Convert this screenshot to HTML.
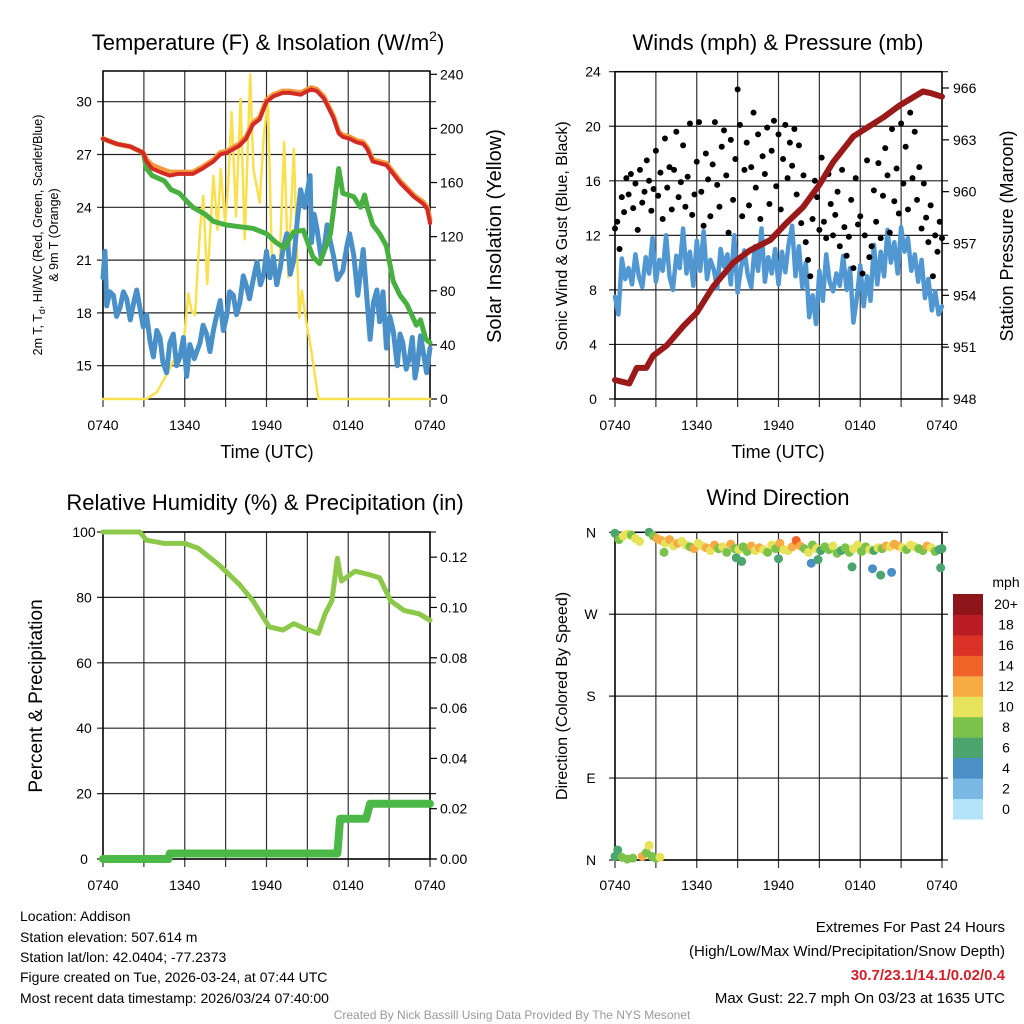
<!DOCTYPE html>
<html><head><meta charset="utf-8"><style>
body{margin:0;background:#fff;}
svg{display:block;font-family:"Liberation Sans",Arial,sans-serif;}
</style></head><body>
<svg id="s" width="1024" height="1024" viewBox="0 0 1024 1024">
<g id="g"></g>
<text x="268" y="50" font-size="22" text-anchor="middle">Temperature (F) &amp; Insolation (W/m<tspan dy="-9" font-size="14">2</tspan><tspan dy="9">)</tspan></text>
<text x="778" y="50" font-size="22" text-anchor="middle">Winds (mph) &amp; Pressure (mb)</text>
<text x="265" y="510" font-size="22" text-anchor="middle">Relative Humidity (%) &amp; Precipitation (in)</text>
<text x="778" y="505" font-size="22" text-anchor="middle">Wind Direction</text>
<text x="267" y="458" font-size="18" text-anchor="middle">Time (UTC)</text>
<text x="778" y="458" font-size="18" text-anchor="middle">Time (UTC)</text>
<text transform="translate(42,235) rotate(-90)" font-size="12.5" text-anchor="middle">2m T, T<tspan font-size="9" dy="3">d</tspan><tspan dy="-3">, HI/WC (Red, Green, Scarlet/Blue)</tspan></text>
<text transform="translate(58,235) rotate(-90)" font-size="12.5" text-anchor="middle">&amp; 9m T (Orange)</text>
<text transform="translate(501,236) rotate(-90)" font-size="20" text-anchor="middle">Solar Insolation (Yellow)</text>
<text transform="translate(567,236) rotate(-90)" font-size="16" text-anchor="middle">Sonic Wind &amp; Gust (Blue, Black)</text>
<text transform="translate(1013,236) rotate(-90)" font-size="18" text-anchor="middle">Station Pressure (Maroon)</text>
<text transform="translate(42,696) rotate(-90)" font-size="19" text-anchor="middle">Percent &amp; Precipitation</text>
<text transform="translate(567,696) rotate(-90)" font-size="16" text-anchor="middle">Direction (Colored By Speed)</text>
<g font-size="14">
<text x="20" y="921">Location: Addison</text>
<text x="20" y="942">Station elevation: 507.614 m</text>
<text x="20" y="962">Station lat/lon: 42.0404; -77.2373</text>
<text x="20" y="982">Figure created on Tue, 2026-03-24, at 07:44 UTC</text>
<text x="20" y="1003">Most recent data timestamp: 2026/03/24 07:40:00</text>
</g>
<g font-size="15" text-anchor="end">
<text x="1005" y="932">Extremes For Past 24 Hours</text>
<text x="1005" y="956">(High/Low/Max Wind/Precipitation/Snow Depth)</text>
<text x="1005" y="980" fill="#d0202a" font-weight="bold">30.7/23.1/14.1/0.02/0.4</text>
<text x="1005" y="1003">Max Gust: 22.7 mph On 03/23 at 1635 UTC</text>
</g>
<text x="512" y="1019" font-size="12" fill="#999" text-anchor="middle">Created By Nick Bassill Using Data Provided By The NYS Mesonet</text>
</svg>
<script>
// ---- data ----
const timeTickLabels=["0740","1340","1940","0140","0740"];
const tTimes=[0,1,2,2.95,3.2,3.6,4.2,4.9,5.5,6.6,7.3,8.1,8.6,9.1,10,10.5,11,11.5,12,12.5,13.2,13.7,14.5,15,15.3,15.7,16.2,16.9,17.3,17.6,18.1,18.6,19.1,19.4,19.8,20.8,21.8,22.8,23.5,23.8,24];
const tempVals=[27.9,27.6,27.45,27.1,26.6,26.2,26.0,25.8,25.9,25.9,26.2,26.6,27.0,27.1,27.5,27.9,28.7,29.0,30.0,30.3,30.5,30.5,30.4,30.6,30.7,30.6,30.2,29.1,28.2,28.0,27.9,27.7,27.6,27.3,26.6,26.4,25.4,24.6,24.2,23.9,23.1];
const temp9Vals=[27.9,27.6,27.45,27.1,26.7,26.4,26.2,26.0,26.0,26.0,26.3,26.7,27.1,27.2,27.6,28.0,28.8,29.1,30.1,30.4,30.6,30.6,30.5,30.7,30.8,30.7,30.3,29.2,28.3,28.1,28.0,27.8,27.7,27.4,26.7,26.5,25.5,24.7,24.3,24.0,23.3];
const tdTimes=[0,1,2,2.95,3.2,3.6,4.5,5,5.6,6.2,6.6,7.5,8.1,9,10,11,12,12.7,13.3,14,14.7,15.4,15.9,16.7,17.3,17.6,18.4,18.9,19.2,19.4,19.8,20.3,20.8,21.3,21.8,22.3,23,23.3,23.7,24];
const tdVals=[27.9,27.6,27.45,27.1,26.2,25.8,25.5,25.0,24.8,24.3,24.0,23.6,23.2,23.0,22.9,22.8,22.5,22.0,21.7,22.6,22.7,21.2,20.8,22.5,26.2,24.8,24.6,24.0,24.7,24.0,23.0,22.5,21.8,19.8,19.0,18.5,17.3,17.6,16.5,16.3];
const wcTimes=[0,0.15,0.27,0.5,0.76,1.0,1.25,1.5,1.74,2.0,2.23,2.47,2.96,3.2,3.45,3.7,3.95,4.18,4.4,4.67,4.9,5.16,5.4,5.65,5.9,6.14,6.38,6.7,7.12,7.35,7.6,7.85,8.1,8.35,8.6,8.83,9.07,9.3,9.56,9.8,10.05,10.3,10.5,10.75,11,11.3,11.55,11.8,12,12.25,12.5,12.75,13,13.25,13.5,13.75,14,14.25,14.5,14.8,15.2,15.3,15.5,15.7,16.0,16.2,16.45,16.7,16.9,17.2,17.6,17.9,18.1,18.4,18.7,19.1,19.3,19.6,19.85,20.1,20.3,20.55,20.8,21.05,21.3,21.6,21.8,22.0,22.25,22.5,22.7,22.9,23.1,23.3,23.5,23.75,24];
const wcVals=[20,21.5,18.4,19.2,19,17.8,18.3,19.2,18.8,17.6,18.5,19.3,17.2,17.9,16.4,15.5,17.0,16.6,15.2,14.6,16.3,16.8,15.0,15.5,16.6,14.4,16.2,15.4,16.3,17.3,16.8,15.8,17.0,17.9,18.7,17.0,17.8,19.2,19,17.9,18.6,20.1,19.6,18.8,19.8,20.9,19.6,20.2,21.5,20.0,21.2,19.6,20.5,21.8,22.5,20.2,21,23.2,25,24,25.8,22,23.6,22.8,21.2,21.5,23.0,22,21.3,19.9,20.4,21.8,22.5,21.3,19,21.6,19.5,16.5,18.6,19.3,17.5,19.2,16,17.8,17,15,16.8,16.3,14.8,15.5,16.6,14.3,15.2,16.7,15.8,14.6,16];
const solTimes=[0,3.2,3.95,4.67,5.16,5.77,6.0,6.26,6.5,6.75,7.12,7.36,7.65,8.1,8.4,8.64,8.96,9.2,9.44,9.76,10.1,10.4,10.8,11.04,11.5,11.8,12.1,12.4,12.9,13.3,13.6,14.0,14.4,14.6,14.9,15.3,15.8,24];
const solVals=[0,0,5,18,28,30,50,78,65,62,125,150,85,165,125,170,130,160,212,135,222,118,240,170,145,195,220,100,85,190,90,185,60,80,58,35,0,0];
const tempTicks=[15,18,21,24,27,30];
const solTicks=[0,40,80,120,160,200,240];
const windMph=[7.5,6.2,10.3,8.8,9.6,8.4,10.6,9.0,8.2,10.4,9.2,11.8,8.6,10.2,9.4,12.0,9.0,8.0,10.5,9.6,12.5,9.2,10.8,8.3,11.6,9.4,12.3,8.8,10.2,9.5,8.1,11.0,9.7,10.6,8.4,12.0,7.8,9.6,10.9,9.1,8.2,11.2,9.4,12.5,8.6,10.4,9.2,11.0,8.4,10.8,9.3,11.4,12.7,9.0,11.2,8.2,10.0,6.0,7.6,5.5,9.4,7.2,10.6,8.6,7.9,9.2,8.3,10.5,8.0,9.6,5.6,7.4,9.8,6.8,9.0,7.2,11.3,8.4,10.8,9.0,12.4,10.0,11.5,9.2,12.6,10.8,11.8,9.4,10.6,8.6,10.2,7.4,8.8,6.5,7.9,6.2,6.8];
const gustMph=[12.5,13.0,11.0,14.8,13.7,16.2,15.0,16.5,14.0,15.8,12.4,16.8,14.4,15.2,17.5,16.0,13.8,15.4,18.2,14.9,16.6,13.2,19.1,15.5,17.0,13.9,16.8,19.6,14.8,15.9,18.6,14.1,16.3,20.2,13.5,15.0,17.4,20.3,15.2,12.7,18.0,16.1,13.4,17.2,20.3,15.7,14.1,18.5,19.7,16.4,12.2,19.0,14.6,17.6,22.7,20.1,13.4,16.8,18.8,14.2,17.0,21.0,15.5,19.4,13.2,17.8,16.5,19.9,14.3,18.2,20.4,15.6,19.4,13.9,17.6,20.1,16.2,18.8,17.1,19.8,15.0,18.6,12.9,16.4,11.5,10.2,9.0,13.2,16.0,14.8,12.4,17.7,13.0,11.8,16.5,14.3,12.0,13.5,15.2,11.2,16.8,12.6,10.5,11.9,14.6,9.6,16.2,12.8,13.4,9.2,12.0,17.5,10.4,11.2,15.3,13.0,17.3,11.8,14.9,18.4,16.4,12.2,19.8,14.5,16.9,13.6,20.2,15.8,18.5,13.9,21.0,16.2,19.6,14.6,17.0,12.5,15.8,13.3,11.5,14.2,9.0,12.0,10.8,13.0,11.8];
const presTimes=[0,0.5,1.05,1.6,2.3,2.8,3.8,5,6,7.2,8.7,9.9,11.4,12.6,13.8,15,16,17.5,18.5,19.7,20.9,22.6,23.2,24];
const presVals=[949.1,949.0,948.9,949.8,949.8,950.5,951.1,952.2,953.0,954.5,955.9,956.6,957.2,958.2,959.1,960.4,961.7,963.2,963.7,964.3,965.0,965.8,965.7,965.5];
const windTicks=[0,4,8,12,16,20,24];
const presTicks=[948,951,954,957,960,963,966];
const rhTimes=[0,2.7,3.2,4.5,6,7,8.5,10,11,12.2,13.2,14,14.8,15.8,16.3,16.8,17.2,17.5,18.5,19.5,20.3,21.1,22.1,23.2,24];
const rhVals=[100,100,97.5,96.5,96.5,95,90,84,79,71,70,72,70.5,69,75,79,92,85,88,87,86,79,76,75,73];
const pcpTimes=[0,4.8,4.9,17.2,17.4,19.3,19.6,24];
const pcpVals=[0,0,0.0022,0.0022,0.016,0.016,0.022,0.022];
const rhTicks=[0,20,40,60,80,100];
const pcpTicks=[0,0.02,0.04,0.06,0.08,0.10,0.12];
const pcpTickLabels=["0.00","0.02","0.04","0.06","0.08","0.10","0.12"];
const dirTimes=[0,0.3,0.6,0.9,1.2,1.5,1.8,2.5,2.8,3.1,3.4,3.7,4.0,4.3,4.6,4.9,5.2,5.5,5.8,6.1,6.4,6.7,7.0,7.3,7.6,7.9,8.2,8.5,8.8,9.1,9.4,9.7,10.0,10.3,10.6,10.9,11.2,11.5,11.8,12.1,12.4,12.7,13.0,13.3,13.6,13.9,14.2,14.5,14.8,15.1,15.4,15.7,16.0,16.3,16.6,16.9,17.2,17.5,17.8,18.1,18.4,18.7,19.0,19.3,19.6,19.9,20.2,20.5,20.8,21.1,21.4,21.7,22.0,22.3,22.6,22.9,23.2,23.5,23.8,24,3.6,8.9,9.3,12.0,14.4,14.9,17.4,18.9,19.5,20.3,23.9];
const dirVals=[359,352,356,358,357,353,350,360,356,353,351,348,352,345,348,350,346,344,342,348,345,343,340,346,342,344,338,347,342,341,344,339,345,340,343,341,338,346,342,348,341,340,344,351,345,342,338,346,342,340,344,341,345,337,340,343,338,342,346,339,344,341,340,343,342,345,344,347,345,343,341,346,344,342,340,345,343,339,341,342,338,332,328,331,326,330,322,320,313,316,321];
const dirSpd=[7,9,10,10,8,11,10,7,9,12,12,10,13,11,12,10,11,9,12,10,11,13,11,12,9,10,8,12,8,11,9,8,13,10,12,10,8,11,9,12,10,11,13,14,12,9,10,8,11,7,9,8,10,9,7,8,9,10,11,8,9,10,7,11,9,12,11,13,12,10,9,11,10,8,9,12,10,8,7,7,8,7,6,7,5,6,7,4,6,5,6];
const dirLowTimes=[0,0.2,0.5,0.9,1.3,2.0,2.3,2.5,2.7,3.0,3.3];
const dirLowVals=[4,11,3,1,2,4,8,16,4,2,3];
const dirLowSpd=[7,6,9,8,9,13,8,10,9,9,10];
const spdColors=["#b3e3f8","#7ab9e3","#4a8fc6","#4aa66e","#7bc24a","#e6e259","#f7ab45","#f06428","#db3127","#b91c24","#8e1519"];
const cbLabels=["0","2","4","6","8","10","12","14","16","18","20+"];
const dirTicks=[0,90,180,270,360];
const dirTickLabels=["N","E","S","W","N"];

const NS="http://www.w3.org/2000/svg";
const G=document.getElementById('g');
function el(tag,attrs,parent){const e=document.createElementNS(NS,tag);for(const k in attrs)e.setAttribute(k,attrs[k]);(parent||G).appendChild(e);return e;}
function lin(d0,d1,r0,r1){return v=>r0+(v-d0)/(d1-d0)*(r1-r0);}
function panel(L,R,T,B,name){
  const g=el('g',{});
  
  
  return g;
}
function grid(g,x,y,L,R,T,B,xs,ys){
  xs.forEach(v=>{const l=el('line',{x1:x(v),x2:x(v),y1:T,y2:B+8,stroke:'#333','stroke-width':1.2},g);});
  ys.forEach(v=>{const l=el('line',{x1:L-6,x2:R+6,y1:y(v),y2:y(v),stroke:'#222','stroke-width':1.2},g);});
  el('rect',{x:L,y:T,width:R-L,height:B-T,fill:'none',stroke:'#000','stroke-width':1.5},g);
}
function xlabels(g,x,yb){
  [0,6,12,18,24].forEach((h,i)=>{const t=el('text',{x:x(h),y:yb,'font-size':14,'text-anchor':'middle'},g);t.textContent=timeTickLabels[i];});
}
function ylabels(g,y,ticks,labels,xp,anchor){
  ticks.forEach((v,i)=>{const t=el('text',{x:xp,y:y(v)+5,'font-size':14,'text-anchor':anchor},g);t.textContent=labels?labels[i]:String(v);});
}
function path(g,xs,ys,x,y,col,w,name){
  const d=xs.map((t,i)=>(i?'L':'M')+x(t).toFixed(1)+','+y(ys[i]).toFixed(1)).join('');
  const p=el('path',{d:d,fill:'none',stroke:col,'stroke-width':w,'stroke-linejoin':'round','stroke-linecap':'round'},g);
  return p;
}
function rticks(g,y,ticks,R){ticks.forEach(v=>el('line',{x1:R,x2:R+7,y1:y(v),y2:y(v),stroke:'#000','stroke-width':1.2},g));}

// Panel 1
(function(){
  const L=103,R=430,T=71,B=399;
  const x=lin(0,24,L,R), y=lin(15,30,365.7,101.7), ys=lin(0,240,B,74.3);
  const g=panel(L,R,T,B,'temperature-panel');
  grid(g,x,y,L,R,T,B,[0,3,6,9,12,15,18,21,24],tempTicks);
  rticks(g,ys,solTicks,R);
  path(g,solTimes,solVals,x,ys,'#f8e04e',2.5,'insolation-line');
  path(g,wcTimes,wcVals,x,y,'#4a90c8',5,'windchill-line');
  path(g,tdTimes,tdVals,x,y,'#47b040',5,'dewpoint-line');
  path(g,tTimes,temp9Vals,x,y,'#f49a3a',5,'temp-9m-line');
  path(g,tTimes,tempVals,x,y,'#d42a26',4,'temp-2m-line');
  xlabels(g,x,430);ylabels(g,y,tempTicks,null,84,'middle');ylabels(g,ys,solTicks,null,440,'start');
})();
// Panel 2
(function(){
  const L=615,R=942,T=71.7,B=399;
  const x=lin(0,24,L,R), y=lin(0,24,B,71.7), yp=lin(948,966,B,88);
  const g=panel(L,R,T,B,'winds-panel');
  grid(g,x,y,L,R,T,B,[0,3,6,9,12,15,18,21,24],windTicks);
  rticks(g,yp,presTicks,R);
  path(g,windMph.map((v,i)=>i*0.25),windMph,x,y,'#5197d2',4.5,'sonic-wind-line');
  gustMph.forEach((v,i)=>{const c=el('circle',{cx:x(i*24/144),cy:y(v),r:3,fill:'#000'},g);});
  path(g,presTimes,presVals,x,yp,'#9a1a1a',6,'pressure-line');
  xlabels(g,x,430);ylabels(g,y,windTicks,null,593,'middle');ylabels(g,yp,presTicks,null,953,'start');
})();
// Panel 3
(function(){
  const L=103,R=430,T=532,B=859;
  const x=lin(0,24,L,R), y=lin(0,100,B,T), yp=lin(0,0.13,B,T);
  const g=panel(L,R,T,B,'rh-panel');
  grid(g,x,y,L,R,T,B,[0,3,6,9,12,15,18,21,24],rhTicks);
  rticks(g,yp,pcpTicks,R);
  path(g,rhTimes,rhVals,x,y,'#8cc84a',5,'rh-line');
  path(g,pcpTimes,pcpVals,x,yp,'#4cb848',8,'precip-line');
  xlabels(g,x,890);ylabels(g,y,rhTicks,null,84,'middle');ylabels(g,yp,pcpTicks,pcpTickLabels,440,'start');
})();
// Panel 4
(function(){
  const L=615,R=942,T=532.3,B=860;
  const x=lin(0,24,L,R), y=lin(0,360,B,T);
  const g=panel(L,R,T,B,'wind-direction-panel');
  grid(g,x,y,L,R,T,B,[0,3,6,9,12,15,18,21,24],dirTicks);
  const col=s=>spdColors[Math.min(10,Math.floor(s/2))];
  dirTimes.forEach((t,i)=>{const c=el('circle',{cx:x(t),cy:y(dirVals[i]),r:4.5,fill:col(dirSpd[i])},g);});
  dirLowTimes.forEach((t,i)=>{const c=el('circle',{cx:x(t),cy:y(dirLowVals[i]),r:4.5,fill:col(dirLowSpd[i])},g);});
  xlabels(g,x,890);ylabels(g,y,dirTicks,dirTickLabels,591,'middle');
  const cb=el('g',{},g);
  const h=225/11;
  spdColors.forEach((c,i)=>{el('rect',{x:953,y:819-(i+1)*h,width:30,height:h+0.5,fill:c},cb);
    const t=el('text',{x:1006,y:819-i*h-h/2+5,'font-size':14,'text-anchor':'middle'},cb);t.textContent=cbLabels[i];});
  const u=el('text',{x:1006,y:587,'font-size':14,'text-anchor':'middle'},cb);u.textContent='mph';
})();
</script>
</body></html>
